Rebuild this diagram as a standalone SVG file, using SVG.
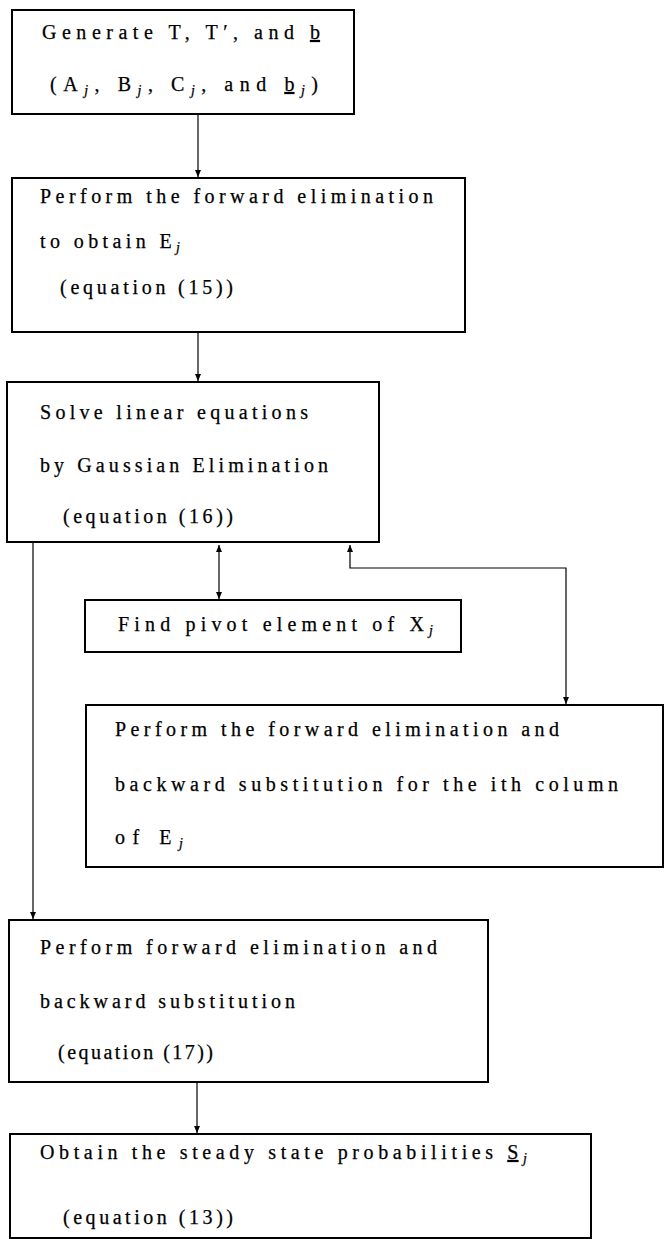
<svg xmlns="http://www.w3.org/2000/svg" width="664" height="1239" viewBox="0 0 664 1239">
<style>
.box{fill:#fff;stroke:#000;stroke-width:2}
.t{font-family:"Liberation Serif","Times New Roman",serif;font-size:20px;fill:#000;stroke:#000;stroke-width:0.25}
.s{font-size:14px;font-style:italic}
.u{text-decoration:underline}
.c{fill:none;stroke:#000;stroke-width:1.2}
</style>
<defs>
<marker id="ah" markerUnits="userSpaceOnUse" markerWidth="8" markerHeight="8" refX="7" refY="3.5" orient="auto-start-reverse">
<path d="M0,0.5 L7,3.5 L0,6.5 z" fill="#000"/>
</marker>
</defs>
<rect width="664" height="1239" fill="#fff"/>
<g id="connectors">
<line class="c" x1="198" y1="114" x2="198" y2="177" marker-end="url(#ah)"/>
<line class="c" x1="198" y1="332" x2="198" y2="381" marker-end="url(#ah)"/>
<line class="c" x1="219" y1="545" x2="219" y2="599" marker-start="url(#ah)" marker-end="url(#ah)"/>
<polyline class="c" points="566,704 566,568 350,568 350,545" marker-start="url(#ah)" marker-end="url(#ah)"/>
<line class="c" x1="33" y1="542" x2="33" y2="919" marker-end="url(#ah)"/>
<line class="c" x1="197" y1="1082" x2="197" y2="1133" marker-end="url(#ah)"/>
</g>
<g id="n1">
<rect class="box" x="12" y="10" width="342" height="104"/>
<text class="t" x="42" y="39" textLength="278" lengthAdjust="spacing">Generate T, T′, and <tspan class="u">b</tspan></text>
<text class="t" x="50" y="91" textLength="268" lengthAdjust="spacing">(A<tspan class="s" dy="4">j</tspan><tspan dy="-4">, B</tspan><tspan class="s" dy="4">j</tspan><tspan dy="-4">, C</tspan><tspan class="s" dy="4">j</tspan><tspan dy="-4">, and </tspan><tspan class="u">b</tspan><tspan class="s" dy="4">j</tspan><tspan dy="-4">)</tspan></text>
</g>
<g id="n2">
<rect class="box" x="12" y="178" width="453" height="154"/>
<text class="t" x="40" y="203" textLength="393" lengthAdjust="spacing">Perform the forward elimination</text>
<text class="t" x="40" y="248" textLength="140" lengthAdjust="spacing">to obtain E<tspan class="s" dy="4">j</tspan></text>
<text class="t" x="60" y="294" textLength="173" lengthAdjust="spacing">(equation (15))</text>
</g>
<g id="n3">
<rect class="box" x="7" y="382" width="372" height="160"/>
<text class="t" x="40" y="419" textLength="268" lengthAdjust="spacing">Solve linear equations</text>
<text class="t" x="40" y="472" textLength="288" lengthAdjust="spacing">by Gaussian Elimination</text>
<text class="t" x="63" y="523" textLength="170" lengthAdjust="spacing">(equation (16))</text>
</g>
<g id="n4">
<rect class="box" x="85" y="600" width="376" height="52"/>
<text class="t" x="118" y="631" textLength="315" lengthAdjust="spacing">Find pivot element of X<tspan class="s" dy="4">j</tspan></text>
</g>
<g id="n5">
<rect class="box" x="86" y="705" width="577" height="162"/>
<text class="t" x="115" y="736" textLength="444" lengthAdjust="spacing">Perform the forward elimination and</text>
<text class="t" x="115" y="791" textLength="503" lengthAdjust="spacing">backward substitution for the ith column</text>
<text class="t" x="115" y="844" textLength="68" lengthAdjust="spacing">of E<tspan class="s" dy="4">j</tspan></text>
</g>
<g id="n6">
<rect class="box" x="9" y="920" width="479" height="162"/>
<text class="t" x="40" y="954" textLength="397" lengthAdjust="spacing">Perform forward elimination and</text>
<text class="t" x="40" y="1008" textLength="255" lengthAdjust="spacing">backward substitution</text>
<text class="t" x="58" y="1059" textLength="155" lengthAdjust="spacing">(equation (17))</text>
</g>
<g id="n7">
<rect class="box" x="10" y="1134" width="581" height="104"/>
<text class="t" x="40" y="1159" textLength="487" lengthAdjust="spacing">Obtain the steady state probabilities <tspan class="u">S</tspan><tspan class="s" dy="4">j</tspan></text>
<text class="t" x="63" y="1224" textLength="170" lengthAdjust="spacing">(equation (13))</text>
</g>
</svg>
